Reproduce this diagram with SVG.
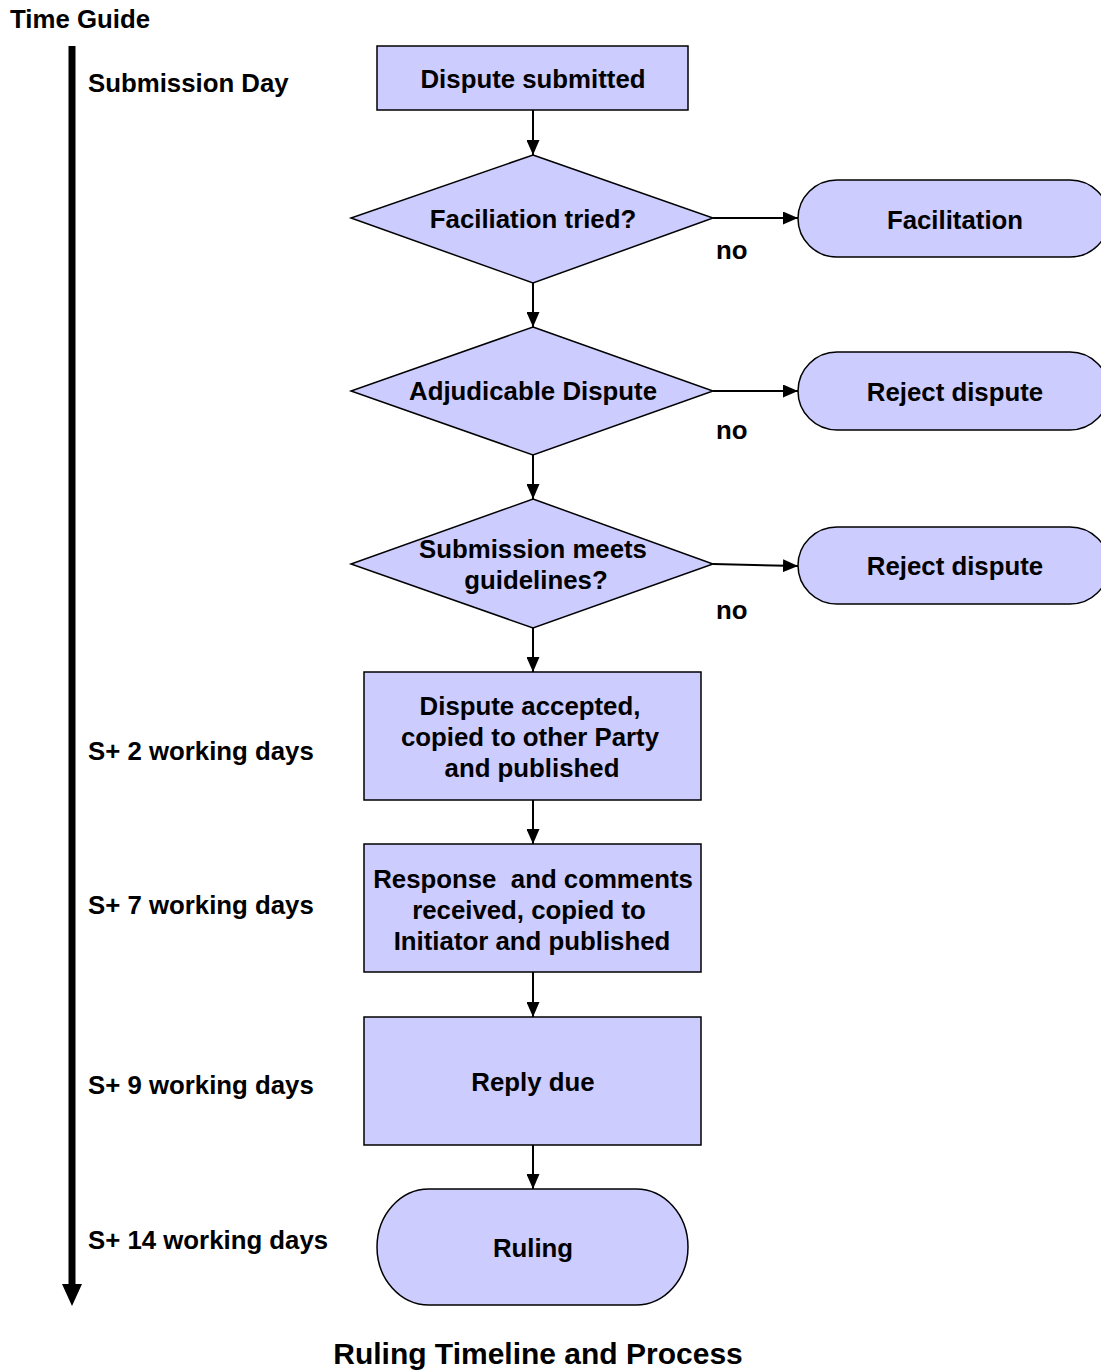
<svg xmlns="http://www.w3.org/2000/svg" width="1101" height="1370" viewBox="0 0 1101 1370">
<defs>
<style>
text{font-family:"Liberation Sans",Arial,sans-serif;font-weight:bold;font-size:25.8px;fill:#000;white-space:pre}
.c{text-anchor:middle}
.shape{fill:#CCCCFF;stroke:#000;stroke-width:1.5}
.conn{stroke:#000;stroke-width:2;fill:none;marker-end:url(#ah)}
</style>
<marker id="ah" viewBox="0 0 15 13" refX="15" refY="6.5" markerWidth="15" markerHeight="13" markerUnits="userSpaceOnUse" orient="auto">
<path d="M0,0 L15,6.5 L0,13 z" fill="#000"/>
</marker>
</defs>
<rect width="1101" height="1370" fill="#fff"/>
<g id="timeline">
<text x="10" y="28">Time Guide</text>
<rect x="68.5" y="46" width="7" height="1240" fill="#000"/>
<path d="M62,1284 L82,1284 L72,1306 z" fill="#000"/>
<text x="88" y="92">Submission Day</text>
<text x="88" y="760">S+ 2 working days</text>
<text x="88" y="914">S+ 7 working days</text>
<text x="88" y="1094">S+ 9 working days</text>
<text x="88" y="1249">S+ 14 working days</text>
</g>
<g id="connectors">
<line class="conn" x1="533" y1="110" x2="533" y2="155"/>
<line class="conn" x1="533" y1="283" x2="533" y2="327"/>
<line class="conn" x1="533" y1="455" x2="533" y2="499"/>
<line class="conn" x1="533" y1="628" x2="533" y2="672"/>
<line class="conn" x1="533" y1="800" x2="533" y2="844"/>
<line class="conn" x1="533" y1="972" x2="533" y2="1017"/>
<line class="conn" x1="533" y1="1145" x2="533" y2="1189"/>
<line class="conn" x1="713" y1="218" x2="798" y2="218"/>
<line class="conn" x1="713" y1="391" x2="798" y2="391"/>
<line class="conn" x1="713" y1="564" x2="798" y2="566"/>
<text x="716" y="259">no</text>
<text x="716" y="439">no</text>
<text x="716" y="619">no</text>
</g>
<g id="n1">
<rect class="shape" x="377" y="46" width="311" height="64"/>
<text class="c" x="533" y="88">Dispute submitted</text>
</g>
<g id="d1">
<polygon class="shape" points="533,155 713,218 533,283 351,218"/>
<text class="c" x="533" y="228">Faciliation tried?</text>
</g>
<g id="facilitation">
<rect class="shape" x="798" y="180" width="311" height="77" rx="39" ry="38.5"/>
<text class="c" x="955" y="229">Facilitation</text>
</g>
<g id="d2">
<polygon class="shape" points="533,327 713,391 533,455 351,391"/>
<text class="c" x="533" y="400">Adjudicable Dispute</text>
</g>
<g id="reject1">
<rect class="shape" x="798" y="352" width="311" height="78" rx="39" ry="39"/>
<text class="c" x="955" y="401">Reject dispute</text>
</g>
<g id="d3">
<polygon class="shape" points="533,499 713,564 533,628 351,564"/>
<text class="c" x="533" y="558">Submission meets</text>
<text class="c" x="536" y="589">guidelines?</text>
</g>
<g id="reject2">
<rect class="shape" x="798" y="527" width="311" height="77" rx="39" ry="38.5"/>
<text class="c" x="955" y="575">Reject dispute</text>
</g>
<g id="accepted">
<rect class="shape" x="364" y="672" width="337" height="128"/>
<text class="c" x="530" y="715">Dispute accepted,</text>
<text class="c" x="530" y="746">copied to other Party</text>
<text class="c" x="532" y="777">and published</text>
</g>
<g id="response">
<rect class="shape" x="364" y="844" width="337" height="128"/>
<text class="c" x="533" y="888">Response  and comments</text>
<text class="c" x="529" y="919">received, copied to</text>
<text class="c" x="532" y="950">Initiator and published</text>
</g>
<g id="reply">
<rect class="shape" x="364" y="1017" width="337" height="128"/>
<text class="c" x="533" y="1091">Reply due</text>
</g>
<g id="ruling">
<rect class="shape" x="377" y="1189" width="311" height="116" rx="52" ry="58"/>
<text class="c" x="533" y="1257">Ruling</text>
</g>
<text class="c" x="538" y="1364" style="font-size:30px">Ruling Timeline and Process</text>
</svg>
